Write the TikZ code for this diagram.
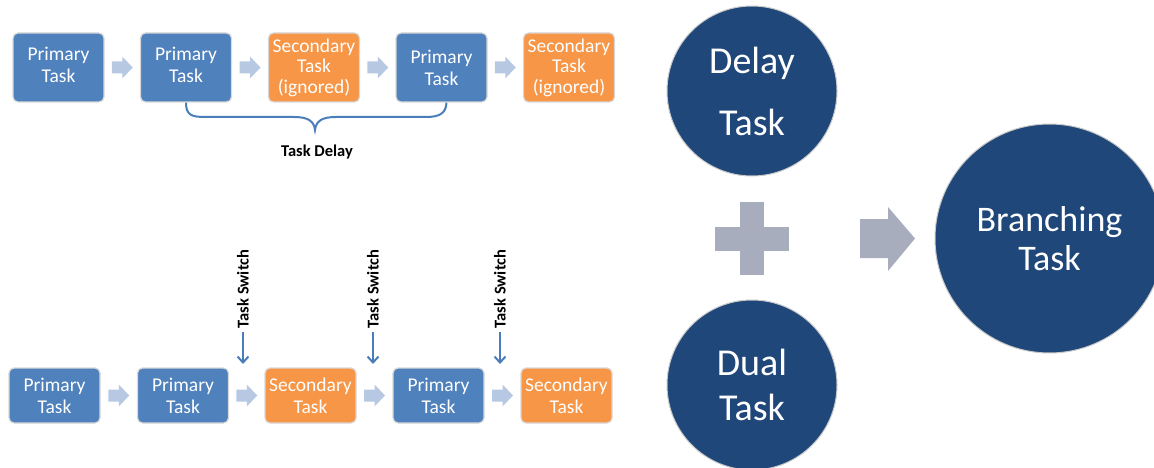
\documentclass[tikz,border=0pt]{standalone}
\usepackage{fontspec}
\setmainfont{Carlito}
\usetikzlibrary{calc,arrows.meta}
\definecolor{pblue}{HTML}{4F81BD}
\definecolor{sorange}{HTML}{F79646}
\definecolor{boxedge}{HTML}{D8D8D8}
\definecolor{chevfill}{HTML}{B7C9E2}
\definecolor{cblue}{HTML}{1F477A}
\definecolor{cedge}{HTML}{C8C8C8}
\definecolor{plusgray}{HTML}{A7ADBD}
\definecolor{linkblue}{HTML}{4A7EBB}
\begin{document}
\begin{tikzpicture}[x=1pt,y=-1pt,
  task/.style={rounded corners=5pt, draw=boxedge, line width=1.2pt, minimum width=91pt,
    text=white, align=center, inner sep=0pt, font=\fontsize{19.5}{22}\selectfont},
  prim/.style={task, fill=pblue},
  sec/.style={task, fill=sorange},
  topbox/.style={minimum height=69pt},
  raised/.style={text depth=6pt},
  botbox/.style={minimum height=55pt},
  bigc/.style={circle, fill=cblue, draw=cedge, line width=1pt, text=white, align=center, inner sep=0pt},
  brace/.style={draw=linkblue, line width=2pt},
  swlabel/.style={rotate=90, inner sep=0pt, font=\bfseries\fontsize{16.5}{18}\selectfont},
  swarrow/.style={draw=linkblue, line width=2pt, shorten <=4pt, -{Straight Barb[length=6pt,width=11pt,line width=2pt]}},
  chev/.pic={\fill[chevfill] (-10.5,-6) -- (0,-6) -- (0,-11) -- (10.5,0) -- (0,11) -- (0,6) -- (-10.5,6) -- cycle;}
]
\useasboundingbox (0,0) rectangle (1154,468);
\clip (0,0) rectangle (1154,468);

% top row
\node[prim,topbox,raised] (t1) at (58.5,67.5) {Primary\\Task};
\node[prim,topbox,raised] (t2) at (186,67.5) {Primary\\Task};
\node[sec,topbox,font=\fontsize{19.5}{20.5}\selectfont] (t3) at (314,67.5) {Secondary\\Task\\(ignored)};
\node[prim,topbox] (t4) at (441.5,67.5) {Primary\\Task};
\node[sec,topbox,font=\fontsize{19.5}{20.5}\selectfont] (t5) at (569,67.5) {Secondary\\Task\\(ignored)};
\foreach \a/\b in {t1/t2,t2/t3,t3/t4,t4/t5}{
  \pic at ($(\a.east)!0.5!(\b.west)$) {chev};
}
\draw[brace] (t2.south) .. controls ++(0,13) and (192,117) .. (206,117) -- (294,117)
  .. controls (308,117) and (314,121) .. (315,130)
  .. controls (316,121) and (322,117) .. (336,117) -- (426,117)
  .. controls (440,117) and (446,113) .. ([xshift=5pt]t4.south);
\node[inner sep=0pt, font=\bfseries\fontsize{16.5}{18}\selectfont] (delaylbl) at (317,152) {Task Delay};

% bottom row
\node[prim,botbox] (b1) at (54.5,395.5) {Primary\\Task};
\node[prim,botbox] (b2) at (183,395.5) {Primary\\Task};
\node[sec,botbox] (b3) at (310.5,395.5) {Secondary\\Task};
\node[prim,botbox] (b4) at (438.5,395.5) {Primary\\Task};
\node[sec,botbox] (b5) at (566.5,395.5) {Secondary\\Task};
\foreach \a/\b in {b1/b2,b2/b3,b3/b4,b4/b5}{
  \pic at ($(\a.east)!0.5!(\b.west)$) {chev};
}
\node[swlabel] (s1) at (243,289) {Task Switch};
\node[swlabel] (s2) at (373,289) {Task Switch};
\node[swlabel] (s3) at (500,289) {Task Switch};
\coordinate (e1) at (243,364);
\coordinate (e2) at (373,364);
\coordinate (e3) at (500,364);
\draw[swarrow] (s1.west) -- (e1);
\draw[swarrow] (s2.west) -- (e2);
\draw[swarrow] (s3.west) -- (e3);

% right part
\node[bigc, minimum size=170pt, font=\fontsize{38}{62}\selectfont] (delay) at (752,91) {Delay\\Task};
\node[bigc, minimum size=170pt, font=\fontsize{38}{45}\selectfont] (dual) at (752,385) {Dual\\Task};
\node[bigc, minimum size=229pt, font=\fontsize{36}{39}\selectfont] (branch) at (1049.5,238.5) {Branching\\Task};
\fill[plusgray] (740,202) rectangle (764,275);
\fill[plusgray] (715,227) rectangle (789,251);
\fill[plusgray] (860,219) -- (888,219) -- (888,207) -- (915,238.5) -- (888,271) -- (888,258) -- (860,258) -- cycle;
\end{tikzpicture}
\end{document}
